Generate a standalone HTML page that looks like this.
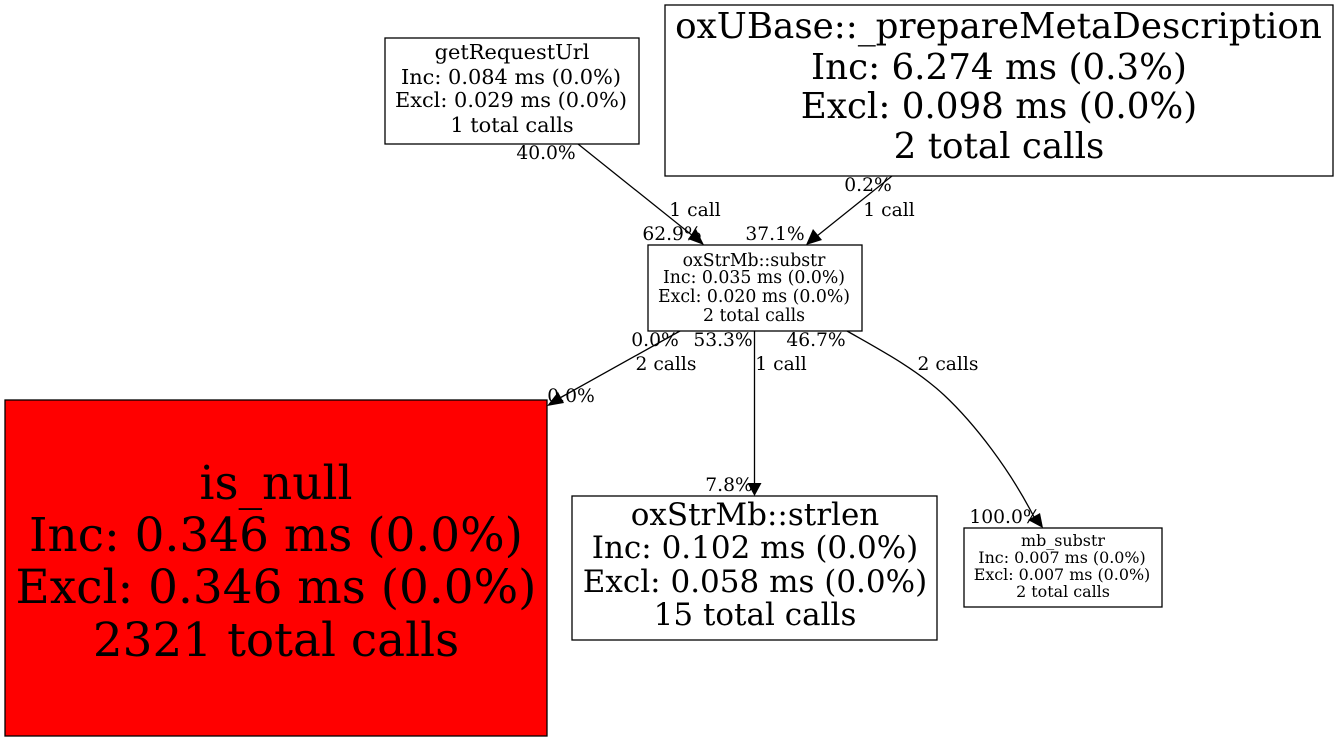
<!DOCTYPE html>
<html><head><meta charset="utf-8"><style>
html,body{margin:0;padding:0;background:#fff;width:1337px;height:741px;overflow:hidden}
svg{display:block}
text{font-family:"DejaVu Serif",serif;fill:#000;text-anchor:middle}
.e{font-size:18.7px}
.n1 text{font-size:20.9px}
.n2 text{font-size:17.3px}
.n3 text{font-size:15.9px}
.n4 text{font-size:35.7px}
.n5 text{font-size:31px}
.n6 text{font-size:46.9px}
rect{stroke:#000;stroke-width:1.3;fill:#fff}
path.l{fill:none;stroke:#000;stroke-width:1.3}
</style></head><body>
<svg width="1337" height="741" viewBox="0 0 1337 741" xmlns="http://www.w3.org/2000/svg">
<path class="l" d="M578,144L693,236"/>
<polygon points="704,245 688,239 696,229"/>
<path class="l" d="M892,176L817,236"/>
<polygon points="806,245 813,229 822,240"/>
<path class="l" d="M680,331L558,399"/>
<polygon points="547,406 558,392 564,403"/>
<path class="l" d="M754.5,331L754.5,483"/>
<polygon points="754.5,496 747.5,483 761.5,483"/>
<path class="l" d="M847,331C875,347 915,368 944,395C975,424 1010,470 1034,517"/>
<polygon points="1043,528 1028,520 1040,513"/>
<g class="n1">
<rect x="385" y="38" width="254" height="106"/>
<text x="512" y="59">getRequestUrl</text>
<text x="511" y="84">Inc: 0.084 ms (0.0%)</text>
<text x="511" y="107">Excl: 0.029 ms (0.0%)</text>
<text x="512" y="132">1 total calls</text>
</g>
<g class="n4">
<rect x="665" y="5" width="668" height="171"/>
<text x="998.5" y="38">oxUBase::_prepareMetaDescription</text>
<text x="999" y="79">Inc: 6.274 ms (0.3%)</text>
<text x="999" y="118">Excl: 0.098 ms (0.0%)</text>
<text x="999" y="158">2 total calls</text>
</g>
<g class="n2">
<rect x="648" y="245" width="214" height="86"/>
<text x="754" y="266">oxStrMb::substr</text>
<text x="754" y="283">Inc: 0.035 ms (0.0%)</text>
<text x="754" y="302">Excl: 0.020 ms (0.0%)</text>
<text x="754" y="321">2 total calls</text>
</g>
<g class="n6">
<rect x="5" y="400" width="542" height="336" style="fill:#f00"/>
<text x="276" y="499">is_null</text>
<text x="276" y="551">Inc: 0.346 ms (0.0%)</text>
<text x="276" y="603">Excl: 0.346 ms (0.0%)</text>
<text x="276" y="656">2321 total calls</text>
</g>
<g class="n5">
<rect x="572" y="496" width="365" height="144"/>
<text x="755" y="525">oxStrMb::strlen</text>
<text x="755" y="558">Inc: 0.102 ms (0.0%)</text>
<text x="755" y="592">Excl: 0.058 ms (0.0%)</text>
<text x="755" y="625">15 total calls</text>
</g>
<g class="n3">
<rect x="964" y="528" width="198" height="79"/>
<text x="1063" y="546">mb_substr</text>
<text x="1062" y="563">Inc: 0.007 ms (0.0%)</text>
<text x="1062" y="580">Excl: 0.007 ms (0.0%)</text>
<text x="1063" y="597">2 total calls</text>
</g>
<g class="e">
<text x="546" y="159">40.0%</text>
<text x="868" y="191">0.2%</text>
<text x="695" y="216">1 call</text>
<text x="889" y="216">1 call</text>
<text x="672" y="240">62.9%</text>
<text x="775" y="240">37.1%</text>
<text x="655" y="346">0.0%</text>
<text x="723" y="346">53.3%</text>
<text x="816" y="346">46.7%</text>
<text x="666" y="370">2 calls</text>
<text x="781" y="370">1 call</text>
<text x="948" y="370">2 calls</text>
<text x="571" y="402">0.0%</text>
<text x="729" y="491">7.8%</text>
<text x="1005" y="523">100.0%</text>
</g>
</svg>
</body></html>
